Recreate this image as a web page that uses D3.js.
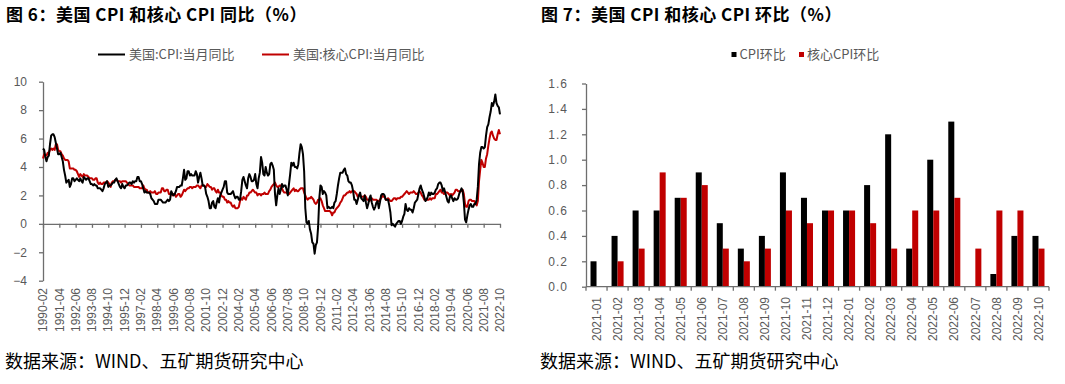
<!DOCTYPE html>
<html>
<head>
<meta charset="utf-8">
<script src="https://cdn.jsdelivr.net/npm/d3@7"></script>
<style>
	body { margin: 0; background: #fff; }
	svg { display: block; }
	.tick text { fill: #595959; }
</style>
</head>
<body>
<div id="chart"></div>
<script>
// ---- left chart: CPI yoy (%), monthly from 1990-02 to 2022-10
let yoyStart = new Date(1990, 1, 1);
let yoyEnd = new Date(2022, 9, 1);

let cpiYoY = [
	5.3, 5.2, 4.7, 4.4, 4.7, 4.8, 5.6, 6.2, 6.3, 6.3, 6.1,
	5.7, 5.3, 4.9, 4.9, 5.0, 4.7, 4.4, 3.8, 3.4, 2.9, 3.0, 3.1,
	2.6, 2.8, 3.2, 3.2, 3.0, 3.1, 3.2, 3.1, 3.0, 3.2, 3.0, 2.9,
	3.3, 3.2, 3.1, 3.2, 3.2, 3.0, 2.8, 2.8, 2.7, 2.8, 2.7, 2.7,
	2.5, 2.5, 2.5, 2.4, 2.3, 2.5, 2.8, 2.9, 3.0, 2.6, 2.7, 2.7,
	2.8, 2.9, 2.9, 3.1, 3.2, 3.0, 2.8, 2.6, 2.5, 2.8, 2.6, 2.5,
	2.7, 2.7, 2.8, 2.9, 2.9, 2.8, 3.0, 2.9, 3.0, 3.0, 3.3, 3.3,
	3.0, 3.0, 2.8, 2.5, 2.2, 2.3, 2.2, 2.2, 2.2, 2.1, 1.8, 1.7,
	1.6, 1.4, 1.4, 1.4, 1.7, 1.7, 1.7, 1.6, 1.5, 1.5, 1.5, 1.6,
	1.7, 1.6, 1.7, 2.3, 2.1, 2.0, 2.1, 2.3, 2.6, 2.6, 2.6, 2.7,
	2.7, 3.2, 3.8, 3.1, 3.2, 3.7, 3.7, 3.4, 3.5, 3.4, 3.4, 3.4,
	3.7, 3.5, 2.9, 3.3, 3.6, 3.2, 2.7, 2.7, 2.6, 2.1, 1.9, 1.6,
	1.1, 1.1, 1.5, 1.6, 1.2, 1.1, 1.5, 1.8, 1.5, 2.0, 2.2, 2.4,
	2.6, 3.0, 3.0, 2.2, 2.1, 2.1, 2.1, 2.2, 2.3, 2.0, 1.8, 1.9,
	1.9, 1.7, 1.7, 2.3, 3.1, 3.3, 3.0, 2.7, 2.5, 3.2, 3.5, 3.3,
	3.0, 3.0, 3.1, 3.5, 2.8, 2.5, 3.2, 3.6, 4.7, 4.3, 3.5, 3.4,
	4.0, 3.6, 3.4, 3.5, 4.2, 4.3, 4.1, 3.8, 2.1, 1.3, 2.0, 2.5,
	2.1, 2.4, 2.8, 2.6, 2.7, 2.7, 2.4, 2.0, 2.8, 3.5, 4.3, 4.1,
	4.3, 4.0, 4.0, 3.9, 4.2, 5.0, 5.6, 5.4, 4.9, 3.7, 1.1, 0.1,
	0.0, 0.2, -0.4, -0.7, -1.3, -1.4, -2.1, -1.5, -1.3, -0.2, 1.8, 2.7,
	2.6, 2.1, 2.3, 2.2, 2.0, 1.1, 1.2, 1.1, 1.1, 1.2, 1.1, 1.5,
	1.6, 2.1, 2.7, 3.2, 3.6, 3.6, 3.6, 3.8, 3.9, 3.5, 3.4, 3.0,
	2.9, 2.9, 2.7, 2.3, 1.7, 1.7, 1.4, 1.7, 2.0, 2.2, 1.8, 1.7,
	1.6, 2.0, 1.5, 1.1, 1.4, 1.8, 2.0, 1.5, 1.2, 1.0, 1.2, 1.5,
	1.6, 1.1, 1.5, 2.0, 2.1, 2.1, 2.0, 1.7, 1.7, 1.7, 1.3, 0.8,
	-0.1, 0.0, -0.1, -0.2, 0.0, 0.1, 0.2, 0.2, 0.0, 0.2, 0.5, 0.7,
	1.4, 1.0, 0.9, 1.1, 1.0, 1.0, 0.8, 1.1, 1.5, 1.6, 1.7, 2.1,
	2.5, 2.7, 2.4, 2.2, 1.9, 1.6, 1.7, 1.9, 2.2, 2.0, 2.2, 2.1,
	2.1, 2.2, 2.4, 2.5, 2.8, 2.9, 2.9, 2.7, 2.3, 2.5, 2.2, 1.9,
	1.6, 1.5, 1.9, 2.0, 1.8, 1.6, 1.8, 1.7, 1.7, 1.8, 2.1, 2.3,
	2.5, 2.3, 1.5, 0.3, 0.1, 0.6, 1.0, 1.3, 1.4, 1.2, 1.2, 1.4,
	1.4, 1.7, 2.6, 4.2, 5.0, 5.4, 5.4, 5.3, 5.4, 6.2, 6.8, 7.0,
	7.5, 7.9, 8.5, 8.3, 8.6, 9.1, 8.5, 8.3, 8.2, 7.7
];

let coreYoY = [
	4.6, 4.9, 4.8, 4.8, 5.0, 5.0, 5.2, 5.3, 5.2, 5.3, 5.2,
	5.6, 5.6, 5.2, 5.1, 5.1, 4.9, 4.8, 4.6, 4.5, 4.5, 4.5, 4.4,
	3.9, 3.9, 3.9, 3.9, 3.8, 3.8, 3.7, 3.5, 3.3, 3.5, 3.4, 3.3,
	3.5, 3.4, 3.4, 3.4, 3.3, 3.2, 3.2, 3.2, 3.1, 3.1, 3.2, 3.2,
	2.9, 2.8, 2.9, 2.8, 2.8, 2.9, 2.9, 2.9, 3.0, 2.9, 2.8, 2.6,
	2.9, 3.0, 3.0, 3.1, 3.1, 3.0, 3.0, 3.0, 2.9, 3.0, 3.0, 3.0,
	3.0, 2.9, 2.8, 2.7, 2.7, 2.7, 2.7, 2.6, 2.6, 2.6, 2.6, 2.6,
	2.5, 2.5, 2.5, 2.7, 2.5, 2.4, 2.4, 2.2, 2.2, 2.3, 2.2, 2.2,
	2.2, 2.3, 2.1, 2.1, 2.2, 2.2, 2.2, 2.5, 2.5, 2.3, 2.3, 2.4,
	2.4, 2.1, 2.1, 2.2, 2.0, 2.1, 2.1, 1.9, 2.0, 2.1, 2.1, 1.9,
	2.0, 2.2, 2.4, 2.3, 2.4, 2.5, 2.5, 2.6, 2.6, 2.5, 2.6, 2.6,
	2.6, 2.7, 2.7, 2.6, 2.5, 2.7, 2.7, 2.7, 2.6, 2.6, 2.8, 2.7,
	2.6, 2.6, 2.4, 2.5, 2.5, 2.3, 2.2, 2.4, 2.2, 2.2, 2.0, 1.9,
	1.9, 1.7, 1.7, 1.5, 1.6, 1.5, 1.5, 1.3, 1.2, 1.3, 1.1, 1.1,
	1.1, 1.2, 1.6, 1.8, 1.7, 1.9, 1.8, 1.7, 2.0, 2.0, 2.2, 2.2,
	2.3, 2.4, 2.3, 2.2, 2.2, 2.0, 2.1, 2.1, 2.0, 2.1, 2.1, 2.2,
	2.1, 2.1, 2.1, 2.3, 2.4, 2.6, 2.7, 2.8, 2.9, 2.7, 2.6, 2.6,
	2.7, 2.7, 2.5, 2.3, 2.2, 2.2, 2.2, 2.1, 2.1, 2.2, 2.3, 2.4,
	2.5, 2.3, 2.4, 2.3, 2.3, 2.4, 2.5, 2.5, 2.5, 2.2, 2.0, 1.8,
	1.7, 1.8, 1.8, 1.9, 1.8, 1.7, 1.5, 1.4, 1.5, 1.7, 1.7, 1.8,
	1.6, 1.3, 1.1, 0.9, 0.9, 0.9, 0.9, 0.9, 0.8, 0.6, 0.8, 0.8,
	1.0, 1.1, 1.2, 1.3, 1.5, 1.6, 1.8, 2.0, 2.0, 2.1, 2.2, 2.2,
	2.3, 2.2, 2.3, 2.3, 2.3, 2.2, 2.1, 1.9, 2.0, 2.0, 1.9, 1.9,
	1.9, 2.0, 1.9, 1.7, 1.7, 1.6, 1.7, 1.8, 1.7, 1.7, 1.7, 1.7,
	1.6, 1.6, 1.7, 1.8, 2.0, 1.9, 1.9, 1.7, 1.7, 1.8, 1.7, 1.6,
	1.6, 1.7, 1.8, 1.8, 1.7, 1.8, 1.8, 1.8, 1.9, 1.9, 2.0, 2.1,
	2.2, 2.3, 2.2, 2.1, 2.2, 2.2, 2.2, 2.3, 2.2, 2.1, 2.1, 2.2,
	2.3, 2.2, 2.0, 1.9, 1.7, 1.7, 1.7, 1.7, 1.7, 1.8, 1.7, 1.8,
	1.8, 1.8, 2.1, 2.1, 2.2, 2.3, 2.4, 2.2, 2.2, 2.1, 2.2, 2.2,
	2.2, 2.1, 2.0, 2.1, 2.0, 2.1, 2.2, 2.4, 2.4, 2.3, 2.3, 2.3,
	2.3, 2.4, 2.1, 1.4, 1.2, 1.2, 1.6, 1.7, 1.7, 1.6, 1.6, 1.6,
	1.4, 1.3, 1.6, 3.0, 3.8, 4.5, 4.3, 4.0, 4.0, 4.6, 4.9, 5.5,
	6.0, 6.4, 6.5, 6.2, 6.0, 5.9, 5.9, 6.3, 6.6, 6.3
];

let yoyTicks = ['1990-02','1991-04','1992-06','1993-08','1994-10','1995-12','1997-02',
	'1998-04','1999-06','2000-08','2001-10','2002-12','2004-02','2005-04','2006-06',
	'2007-08','2008-10','2009-12','2011-02','2012-04','2013-06','2014-08','2015-10',
	'2016-12','2018-02','2019-04','2020-06','2021-08','2022-10'];
let yoyYTicks = [-4, -2, 0, 2, 4, 6, 8, 10];

// ---- right chart: mom (%)
let momMonths = ['2021-01','2021-02','2021-03','2021-04','2021-05','2021-06','2021-07',
	'2021-08','2021-09','2021-10','2021-11','2021-12','2022-01','2022-02','2022-03',
	'2022-04','2022-05','2022-06','2022-07','2022-08','2022-09','2022-10'];
let cpiMoM  = [0.2, 0.4, 0.6, 0.6, 0.7, 0.9, 0.5, 0.3, 0.4, 0.9, 0.7, 0.6, 0.6, 0.8, 1.2, 0.3, 1.0, 1.3, 0.0, 0.1, 0.4, 0.4];
let coreMoM = [0.0, 0.2, 0.3, 0.9, 0.7, 0.8, 0.3, 0.2, 0.3, 0.6, 0.5, 0.6, 0.6, 0.5, 0.3, 0.6, 0.6, 0.7, 0.3, 0.6, 0.6, 0.3];
let momYTicks = [0, 0.2, 0.4, 0.6, 0.8, 1.0, 1.2, 1.4, 1.6];

let titles = ['图 6：美国 CPI 和核心 CPI 同比（%）', '图 7：美国 CPI 和核心 CPI 环比（%）'];
let source = '数据来源：WIND、五矿期货研究中心';

let cjk = '"Noto Sans CJK SC", "Noto Sans", sans-serif';
let latin = '"Liberation Sans", Arial, sans-serif';
let axisColor = '#6e6e6e';
let black = '#000000';
let red = '#c00000';

let svg = d3.select('#chart').append('svg')
	.attr('width', 1065)
	.attr('height', 384);

svg.append('rect').attr('width', 1065).attr('height', 384).attr('fill', '#fff');

// titles and source lines
[6, 541].forEach((x, i) => {
	svg.append('text')
		.attr('x', x)
		.attr('y', 21)
		.style('font-family', cjk)
		.style('font-weight', 700)
		.style('font-size', '17px')
		.style('letter-spacing', '0.5px')
		.attr('fill', '#000')
		.text(titles[i]);

	svg.append('text')
		.attr('x', x - 1)
		.attr('y', 368)
		.style('font-family', cjk)
		.style('font-size', '18px')
		.attr('fill', '#000')
		.text(source);
});

function styleAxis(g)
{
	g.select('.domain').attr('stroke', axisColor).attr('stroke-width', 1.3);
	g.selectAll('.tick line').attr('stroke', axisColor).attr('stroke-width', 1.3);
	g.selectAll('.tick text')
		.style('font-family', latin)
		.style('font-size', '12px');
}

// ================= left: yoy lines =================
let months = d3.timeMonth.range(yoyStart, d3.timeMonth.offset(yoyEnd, 1)).map(d3.timeFormat('%Y-%m'));

let x = d3.scalePoint()
	.domain(months)
	.range([43, 500]);

let y = d3.scaleLinear()
	.domain([-4, 10])
	.range([280.7, 81.7]);

svg.append('g')
	.attr('transform', 'translate(43,0)')
	.call(d3.axisLeft(y).tickValues(yoyYTicks).tickSize(4).tickPadding(12).tickSizeOuter(0))
	.call(styleAxis);

svg.append('g')
	.attr('transform', `translate(0,${y(0)})`)
	.call(d3.axisBottom(x).tickValues(yoyTicks).tickSize(4).tickSizeOuter(0).tickFormat(''))
	.call(styleAxis);

svg.append('g')
	.selectAll('text')
	.data(yoyTicks)
	.enter()
	.append('text')
	.attr('transform', d => `translate(${x(d)},288) rotate(-90)`)
	.attr('text-anchor', 'end')
	.attr('dy', '0.35em')
	.style('font-family', latin)
	.style('font-size', '12px')
	.attr('fill', '#595959')
	.text(d => d);

let line = d3.line()
	.x((d, i) => x(months[i]))
	.y(d => y(d));

svg.append('path')
	.datum(coreYoY)
	.attr('d', line)
	.attr('fill', 'none')
	.attr('stroke', red)
	.attr('stroke-width', 2)
	.attr('stroke-linejoin', 'round');

svg.append('path')
	.datum(cpiYoY)
	.attr('d', line)
	.attr('fill', 'none')
	.attr('stroke', black)
	.attr('stroke-width', 2)
	.attr('stroke-linejoin', 'round');

// left legend
let lineLegend = [
	{ name: '美国:CPI:当月同比', color: black, x: 98 },
	{ name: '美国:核心CPI:当月同比', color: red, x: 262 }
];

let lg = svg.append('g').selectAll('g').data(lineLegend).enter().append('g');

lg.append('line')
	.attr('x1', d => d.x)
	.attr('x2', d => d.x + 27)
	.attr('y1', 54.5)
	.attr('y2', 54.5)
	.attr('stroke', d => d.color)
	.attr('stroke-width', 2);

lg.append('text')
	.attr('x', d => d.x + 31)
	.attr('y', 59)
	.style('font-family', cjk)
	.style('font-size', '13px')
	.attr('fill', '#595959')
	.text(d => d.name);

// ================= right: mom bars =================
let keys = ['cpi', 'core'];
let barColor = { cpi: black, core: red };
let barData = momMonths.map((m, i) => ({ month: m, cpi: cpiMoM[i], core: coreMoM[i] }));

let x0 = d3.scaleBand()
	.domain(momMonths)
	.range([586, 1049])
	.padding(0);

let x1 = d3.scaleBand()
	.domain(keys)
	.range([0, x0.bandwidth()])
	.paddingInner(0)
	.paddingOuter(0.75);

let y2 = d3.scaleLinear()
	.domain([0, 1.6])
	.range([286.7, 83.5]);

let groups = svg.append('g')
	.selectAll('g')
	.data(barData)
	.enter()
	.append('g')
	.attr('transform', d => `translate(${x0(d.month)},0)`);

groups.selectAll('rect')
	.data(d => keys.map(k => ({ key: k, value: d[k] })))
	.enter()
	.append('rect')
	.attr('x', d => x1(d.key))
	.attr('y', d => y2(d.value))
	.attr('width', x1.bandwidth())
	.attr('height', d => y2(0) - y2(d.value))
	.attr('fill', d => barColor[d.key]);

svg.append('g')
	.attr('transform', 'translate(586,0)')
	.call(d3.axisLeft(y2).tickValues(momYTicks).tickFormat(d3.format('.1f')).tickSize(4).tickPadding(14).tickSizeOuter(0))
	.call(styleAxis)
	.selectAll('.tick text')
	.style('letter-spacing', '1px');

// category axis with ticks between the bands
let rightX = svg.append('g')
	.attr('transform', `translate(0,${y2(0)})`);

rightX.append('line')
	.attr('x1', 586)
	.attr('x2', 1049)
	.attr('stroke', axisColor)
	.attr('stroke-width', 1.3);

rightX.selectAll('line.t')
	.data(momMonths.concat(['end']))
	.enter()
	.append('line')
	.attr('class', 't')
	.attr('x1', (d, i) => i < momMonths.length ? x0(d) : x0.range()[1])
	.attr('x2', (d, i) => i < momMonths.length ? x0(d) : x0.range()[1])
	.attr('y1', 0)
	.attr('y2', 4)
	.attr('stroke', axisColor)
	.attr('stroke-width', 1.3);

svg.append('g')
	.selectAll('text')
	.data(momMonths)
	.enter()
	.append('text')
	.attr('transform', d => `translate(${x0(d) + x0.bandwidth() / 2},297) rotate(-90)`)
	.attr('text-anchor', 'end')
	.attr('dy', '0.35em')
	.style('font-family', latin)
	.style('font-size', '12px')
	.attr('fill', '#595959')
	.text(d => d);

// right legend
let barLegend = [
	{ name: 'CPI环比', color: black, x: 731.5 },
	{ name: '核心CPI环比', color: red, x: 799 }
];

let bl = svg.append('g').selectAll('g').data(barLegend).enter().append('g');

bl.append('rect')
	.attr('x', d => d.x)
	.attr('y', 52)
	.attr('width', 5)
	.attr('height', 5)
	.attr('fill', d => d.color);

bl.append('text')
	.attr('x', d => d.x + 8)
	.attr('y', 59)
	.style('font-family', cjk)
	.style('font-size', '13px')
	.attr('fill', '#595959')
	.text(d => d.name);
</script>
</body>
</html>
